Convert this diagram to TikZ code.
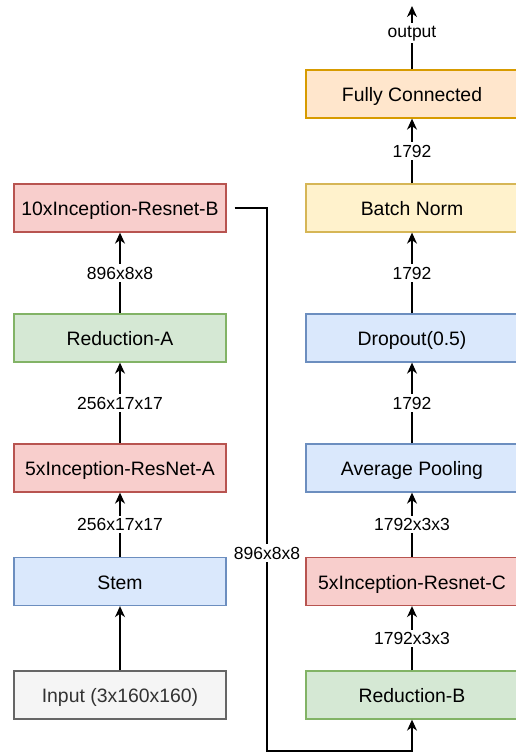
\documentclass[tikz,border=0pt]{standalone}
\usepackage{fontspec}
\setmainfont{Liberation Sans}
\usetikzlibrary{arrows.meta}

\definecolor{redfill}{HTML}{F8CECC}
\definecolor{redline}{HTML}{B85450}
\definecolor{greenfill}{HTML}{D5E8D4}
\definecolor{greenline}{HTML}{82B366}
\definecolor{bluefill}{HTML}{DAE8FC}
\definecolor{blueline}{HTML}{6C8EBF}
\definecolor{grayfill}{HTML}{F5F5F5}
\definecolor{grayline}{HTML}{666666}
\definecolor{graytext}{HTML}{333333}
\definecolor{yellowfill}{HTML}{FFF2CC}
\definecolor{yellowline}{HTML}{D6B656}
\definecolor{orangefill}{HTML}{FFE6CC}
\definecolor{orangeline}{HTML}{D79B00}

\begin{document}
\begin{tikzpicture}[x=1pt, y=-1pt,
    block/.style={draw, line width=1.3pt, minimum width=212pt, minimum height=48pt,
      inner sep=0pt, text height=18pt, text depth=3pt,
      font=\fontsize{19.4}{23}\selectfont},
    redbox/.style={block, fill=redfill, draw=redline},
    greenbox/.style={block, fill=greenfill, draw=greenline},
    bluebox/.style={block, fill=bluefill, draw=blueline},
    graybox/.style={block, fill=grayfill, draw=grayline, text=graytext},
    yellowbox/.style={block, fill=yellowfill, draw=yellowline},
    orangebox/.style={block, fill=orangefill, draw=orangeline},
    conn/.style={line width=1.3pt, -{Stealth[length=11pt, width=10pt, inset=3.5pt]}},
    lbl/.style={fill=white, inner sep=2.5pt, font=\fontsize{17.5}{20}\selectfont}]
  \useasboundingbox (0, 0) rectangle (515, 753);

  % left column
  \node[redbox] (incb) at (120, 208) {10xInception-Resnet-B};
  \node[greenbox] (reda) at (120, 338) {Reduction-A};
  \node[redbox] (inca) at (120, 468) {5xInception-ResNet-A};
  \node[bluebox] (stem) at (120, 581.5) {Stem};
  \node[graybox] (input) at (120, 695) {Input (3x160x160)};

  % right column
  \node[orangebox] (fc) at (412, 94) {Fully Connected};
  \node[yellowbox] (bn) at (412, 208) {Batch Norm};
  \node[bluebox] (drop) at (412, 338) {Dropout(0.5)};
  \node[bluebox] (pool) at (412, 468) {Average Pooling};
  \node[redbox] (incc) at (412, 581.5) {5xInception-Resnet-C};
  \node[greenbox] (redb) at (412, 695) {Reduction-B};
  \coordinate (out) at (412, 6);
  \coordinate (skip) at (267, 751);

  \draw[conn] (input) -- (stem);
  \draw[conn] (stem) -- node[lbl] (l1) {256x17x17} (inca);
  \draw[conn] (inca) -- node[lbl] (l2) {256x17x17} (reda);
  \draw[conn] (reda) -- node[lbl] (l3) {896x8x8} (incb);

  \draw[conn, shorten <=8pt] (incb.east) -| (skip) -| (redb.south);
  \node[lbl] (l4) at (267, 553) {896x8x8};

  \draw[conn] (redb) -- node[lbl] (l5) {1792x3x3} (incc);
  \draw[conn] (incc) -- node[lbl] (l6) {1792x3x3} (pool);
  \draw[conn] (pool) -- node[lbl] (l7) {1792} (drop);
  \draw[conn] (drop) -- node[lbl] (l8) {1792} (bn);
  \draw[conn] (bn) -- node[lbl] (l9) {1792} (fc);
  \draw[conn] (fc) -- node[lbl, pos=0.57] (l10) {output} (out);
\end{tikzpicture}
\end{document}
